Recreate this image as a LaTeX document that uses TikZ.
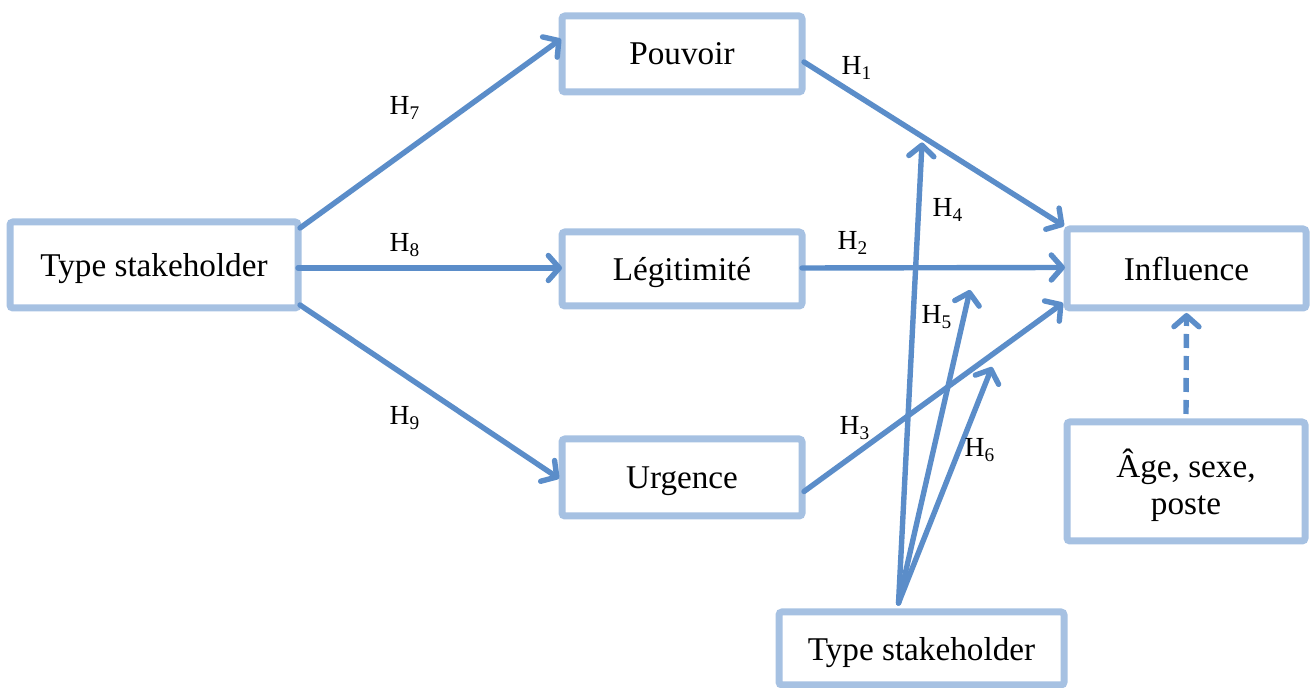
\documentclass[tikz,border=0pt]{standalone}
\usepackage{fontspec}
\setmainfont{Liberation Serif}
\usetikzlibrary{arrows.meta,calc}
\definecolor{boxblue}{RGB}{166,193,226}
\definecolor{arrowblue}{RGB}{91,141,201}
\tikzset{
	bloc/.style={draw=boxblue,line width=3.5pt,rounded corners=1.5pt,fill=white,
		outer sep=0pt,inner sep=0pt,text depth=0pt,align=center,font=\fontsize{16.6}{18.5}\selectfont},
	fleche/.style={draw=arrowblue,line width=2.7pt,line cap=round,
		-{Straight Barb[round,length=5.5pt,width=12.5pt]}},
	pointille/.style={fleche,line cap=butt,dash pattern=on 7pt off 4pt},
	hyp/.style={inner sep=0pt,font=\fontsize{13.8}{16}\selectfont},
}

\begin{document}
\begin{tikzpicture}[x=0.5pt,y=-0.5pt]
	\useasboundingbox (0,0) rectangle (1311,688);

	% boxes..........................
	\node [bloc,minimum width=144pt,minimum height=43pt] (typeg) at (154,265) {Type stakeholder};
	\node [bloc,minimum width=120pt,minimum height=38pt] (pouv) at (682,54) {Pouvoir};
	\node [bloc,minimum width=120pt,minimum height=37pt] (legit) at (682,269) {Légitimité};
	\node [bloc,minimum width=120pt,minimum height=38.5pt] (urg) at (682,477.5) {Urgence};
	\node [bloc,minimum width=119.5pt,minimum height=39.5pt] (infl) at (1186.5,268.5) {Influence};
	\node [bloc,minimum width=119pt,minimum height=59.5pt] (age) at (1186,481.5) {Âge, sexe,\\poste};
	\node [bloc,minimum width=142.5pt,minimum height=36.5pt] (typeb) at (921.5,648.5) {Type stakeholder};

	% end points...................
	\coordinate (h1s) at ($(pouv.east)+(2,8)$);
	\coordinate (h1e) at ($(infl.north west)+(-3,-3)$);
	\coordinate (src) at ($(typeb.north)+(-23,-9)$);
	\coordinate (h4e) at ($($(h1s)!0.454!(h1e)$)+(0,6)$);
	\coordinate (h5e) at (970,290);
	\coordinate (h6e) at (992,367);

	% arrows from type stakeholder....
	\draw [fleche] ($(typeg.north east)+(2,6)$) -- ($(pouv.west)+(-1,-15)$);
	\draw [fleche] (typeg.east |- 0,268) -- (legit.west |- 0,268);
	\draw [fleche] ($(typeg.south east)+(2,-3)$) -- ($(urg.west)+(-3,1)$);

	% arrows to influence.............
	\draw [fleche] (h1s) -- (h1e);
	\draw [fleche] (legit.east |- 0,268) -- ($(infl.west)+(-2,-1)$);
	\draw [fleche] ($(urg.east)+(2,14)$) -- ($(infl.south west)+(-4,-5)$);

	% moderating arrows...............
	\draw [fleche] (src) -- (h4e);
	\draw [fleche] (src) -- (h5e);
	\draw [fleche] (src) -- (h6e);

	% control variables...............
	\draw [pointille] ($(age.north)+(0,-8)$) -- ($(infl.south)+(0,5)$);

	% labels..............................
	\node [hyp] (l7) at (405,108) {H\textsubscript{7}};
	\node [hyp] (l8) at (405,245) {H\textsubscript{8}};
	\node [hyp] (l9) at (405,418) {H\textsubscript{9}};
	\node [hyp] (l1) at (857,68) {H\textsubscript{1}};
	\node [hyp] (l2) at (853,243) {H\textsubscript{2}};
	\node [hyp] (l3) at (855,428) {H\textsubscript{3}};
	\node [hyp] (l4) at (948,210) {H\textsubscript{4}};
	\node [hyp] (l5) at (937,317) {H\textsubscript{5}};
	\node [hyp] (l6) at (980,450) {H\textsubscript{6}};
\end{tikzpicture}
\end{document}
